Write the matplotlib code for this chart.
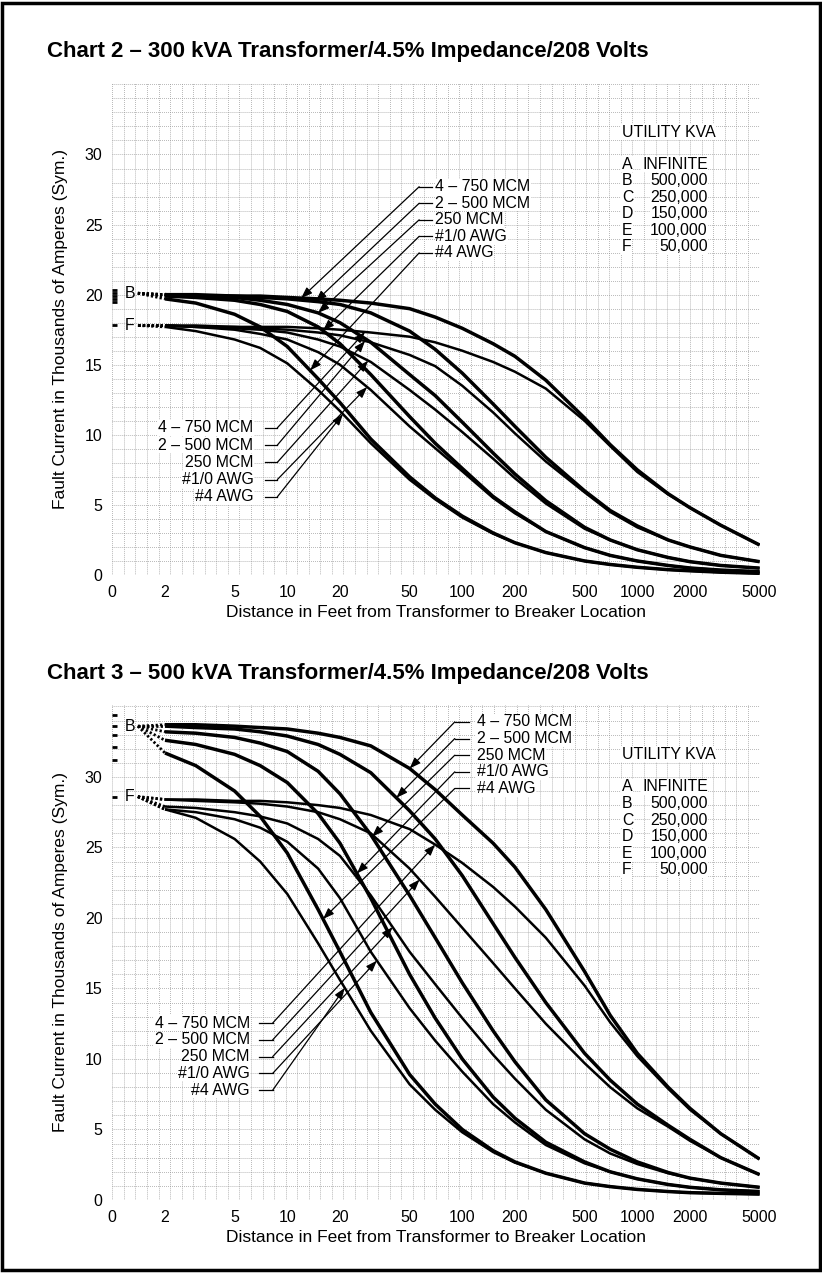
import matplotlib
matplotlib.use("Agg")
import matplotlib.pyplot as plt
import numpy as np
from matplotlib.patches import Rectangle

plt.rcParams["font.family"] = ["Liberation Sans", "DejaVu Sans"]

# distance from transformer (ft) at which each curve is read
feet = [2, 3, 5, 7, 10, 15, 20, 30, 50, 70, 100, 150, 200, 300, 500, 700,
        1000, 1500, 2000, 3000, 5000]

cables = ["4 – 750 MCM", "2 – 500 MCM", "250 MCM", "#1/0 AWG", "#4 AWG"]
utility_letters = ["A", "B", "C", "D", "E", "F"]
utility_kva = ["INFINITE", "500,000", "250,000", "150,000", "100,000", "50,000"]

x_ticks = [1, 2, 5, 10, 20, 50, 100, 200, 500, 1000, 2000, 5000]
x_tick_labels = ["0", "2", "5", "10", "20", "50", "100", "200", "500",
                 "1000", "2000", "5000"]
y_ticks = [0, 5, 10, 15, 20, 25, 30]

# ---- Chart 2: 300 kVA ----
c2_source = [20.3, 20.1, 19.9, 19.7, 19.5, 17.8]   # A..F at zero feet
c2_b_750 = [20.0, 20.0, 19.9, 19.9, 19.8, 19.7, 19.6, 19.4, 19.0, 18.4, 17.6, 16.5, 15.6, 13.9, 11.2, 9.3, 7.5, 5.8, 4.8, 3.55, 2.14]
c2_b_500 = [20.0, 19.9, 19.9, 19.8, 19.7, 19.5, 19.3, 18.7, 17.4, 16.1, 14.4, 12.2, 10.6, 8.4, 6.0, 4.6, 3.5, 2.5, 2.0, 1.4, 0.95]
c2_b_250 = [20.0, 19.9, 19.8, 19.6, 19.3, 18.7, 18.0, 16.6, 14.3, 12.8, 10.9, 8.7, 7.2, 5.3, 3.4, 2.5, 1.8, 1.25, 0.95, 0.68, 0.49]
c2_b_10 = [19.9, 19.8, 19.6, 19.3, 18.8, 17.7, 16.5, 14.3, 11.3, 9.4, 7.6, 5.6, 4.5, 3.1, 1.95, 1.4, 1.0, 0.68, 0.5, 0.35, 0.24]
c2_b_4 = [19.7, 19.4, 18.6, 17.7, 16.3, 14.0, 12.3, 9.7, 7.0, 5.5, 4.2, 3.0, 2.3, 1.6, 1.0, 0.75, 0.55, 0.38, 0.3, 0.2, 0.12]
c2_f_750 = [17.8, 17.8, 17.7, 17.7, 17.7, 17.6, 17.5, 17.3, 17.0, 16.6, 16.0, 15.2, 14.5, 13.3, 11.0, 9.2, 7.35, 5.75, 4.8, 3.55, 2.14]
c2_f_500 = [17.8, 17.7, 17.7, 17.6, 17.5, 17.3, 17.1, 16.6, 15.7, 14.9, 13.5, 11.6, 10.1, 8.1, 5.9, 4.5, 3.4, 2.5, 2.0, 1.4, 0.95]
c2_f_250 = [17.8, 17.7, 17.6, 17.5, 17.3, 16.8, 16.3, 15.2, 13.2, 11.8, 10.2, 8.3, 6.9, 5.1, 3.3, 2.5, 1.8, 1.25, 0.95, 0.68, 0.49]
c2_f_10 = [17.8, 17.7, 17.5, 17.2, 16.8, 15.9, 15.0, 13.2, 10.6, 9.05, 7.4, 5.5, 4.4, 3.1, 1.95, 1.4, 1.0, 0.68, 0.5, 0.35, 0.24]
c2_f_4 = [17.7, 17.4, 16.8, 16.2, 15.1, 13.2, 11.7, 9.4, 6.8, 5.4, 4.1, 2.95, 2.3, 1.6, 1.0, 0.75, 0.55, 0.38, 0.3, 0.2, 0.12]
c2_top_arrow_ft = [12, 14.5, 15, 16, 13.5]
c2_bottom_arrow_ft = [27.8, 27.8, 29, 28.6, 20.8]

# ---- Chart 3: 500 kVA ----
c3_source = [34.4, 33.6, 33.0, 32.1, 31.2, 28.6]
c3_b_750 = [33.7, 33.7, 33.6, 33.5, 33.4, 33.1, 32.8, 32.2, 30.6, 29.1, 27.3, 25.3, 23.6, 20.6, 16.2, 13.1, 10.4, 8.0, 6.5, 4.7, 2.9]
c3_b_500 = [33.6, 33.5, 33.4, 33.2, 32.9, 32.3, 31.6, 30.3, 27.6, 25.6, 23.0, 19.6, 17.2, 14.0, 10.4, 8.5, 6.8, 5.3, 4.3, 3.0, 1.8]
c3_b_250 = [33.2, 33.1, 32.8, 32.4, 31.8, 30.4, 28.8, 25.9, 21.6, 18.6, 15.4, 12.0, 9.8, 7.1, 4.7, 3.6, 2.7, 1.95, 1.55, 1.2, 0.9]
c3_b_10 = [32.6, 32.3, 31.6, 30.8, 29.6, 27.4, 25.3, 21.4, 16.0, 12.9, 10.0, 7.3, 5.8, 4.1, 2.7, 2.0, 1.5, 1.1, 0.9, 0.72, 0.6]
c3_b_4 = [31.7, 30.8, 29.0, 27.2, 24.6, 20.6, 17.6, 13.3, 8.9, 6.8, 5.0, 3.5, 2.7, 1.9, 1.2, 0.95, 0.75, 0.6, 0.52, 0.47, 0.42]
c3_f_750 = [28.4, 28.4, 28.3, 28.3, 28.2, 28.0, 27.8, 27.3, 26.3, 25.2, 23.9, 22.2, 20.8, 18.6, 15.2, 12.6, 10.2, 7.9, 6.4, 4.7, 2.9]
c3_f_500 = [28.4, 28.3, 28.2, 28.1, 27.9, 27.5, 27.0, 26.0, 23.5, 21.5, 19.3, 16.8, 15.0, 12.5, 9.7, 8.0, 6.5, 5.2, 4.2, 3.0, 1.8]
c3_f_250 = [27.9, 27.8, 27.5, 27.2, 26.7, 25.6, 24.4, 21.6, 17.6, 15.3, 12.9, 10.3, 8.6, 6.4, 4.3, 3.3, 2.55, 1.9, 1.55, 1.2, 0.9]
c3_f_10 = [27.7, 27.5, 27.0, 26.4, 25.4, 23.5, 21.4, 17.6, 13.6, 11.3, 9.1, 6.8, 5.5, 3.9, 2.6, 2.0, 1.5, 1.1, 0.9, 0.72, 0.6]
c3_f_4 = [27.7, 27.1, 25.6, 24.0, 21.7, 18.2, 15.6, 12.0, 8.2, 6.4, 4.8, 3.4, 2.65, 1.9, 1.2, 0.95, 0.75, 0.6, 0.52, 0.47, 0.42]
c3_top_arrow_ft = [50, 42, 30.5, 25, 16]
c3_bottom_arrow_ft = [70, 57, 40, 32.5, 21.3]

fig = plt.figure(figsize=(8.22, 12.73), dpi=100)
fig.patches.append(Rectangle((0.003, 0.002), 0.994, 0.996, transform=fig.transFigure,
                             fill=False, edgecolor="black", linewidth=2.5))

GRID = dict(color="#8f8f8f", lw=0.55, ls=(0, (1, 1.6)), zorder=0)
ARROW = dict(arrowstyle="-|>,head_length=0.6,head_width=0.22", color="black",
             lw=0.9, mutation_scale=11, shrinkA=0, shrinkB=0)
TXT = 11.4


def curve_at(curve, ft):
    return float(np.interp(np.log10(ft), np.log10(feet), curve))


def px_factor(px):
    # horizontal offset in pixels -> multiplicative step on the log axis
    return 10 ** (px / 175.0)


def draw_chart(ax, source, b_curves, f_curves, top_ft, bottom_ft,
               top_label, bottom_label, top_gap, bottom_gap):
    ax.set_xscale("log")
    ax.set_xlim(1, 5000)
    ax.set_ylim(0, 35.1)
    for s in ax.spines.values():
        s.set_visible(False)
    ax.tick_params(length=0, labelsize=11.5, pad=7)
    ax.set_xticks(x_ticks)
    ax.set_xticklabels(x_tick_labels)
    ax.set_xticks([], minor=True)
    ax.set_yticks(y_ticks)

    # graph-paper background: one row per thousand amperes, even columns
    for v in range(0, 36):
        ax.axhline(v, **GRID)
    for f in np.linspace(0, 1, 57):
        ax.plot([f, f], [0, 1], transform=ax.transAxes, **GRID)

    for c in b_curves:
        ax.plot(feet, c, color="black", lw=2.5, zorder=3,
                solid_capstyle="butt")
    for c in f_curves:
        ax.plot(feet, c, color="black", lw=1.8, zorder=3,
                solid_capstyle="butt")

    # utility levels at zero feet and dotted lead-ins to the 2 ft start
    for v in source:
        ax.plot([1.0, 1.07], [v, v], color="black", lw=2.0,
                solid_capstyle="butt", zorder=3)
    ax.text(1.26, source[1], "B", ha="center", va="center", fontsize=TXT)
    ax.text(1.26, source[5], "F", ha="center", va="center", fontsize=TXT)
    for c in b_curves:
        ax.plot([1.4, 2], [source[1], c[0]], color="black", lw=2.0,
                ls=(0, (0.8, 0.8)), zorder=3)
    for c in f_curves:
        ax.plot([1.4, 2], [source[5], c[0]], color="black", lw=2.0,
                ls=(0, (0.8, 0.8)), zorder=3)

    # utility legend
    box = dict(facecolor="white", edgecolor="none", pad=0.4)
    ax.text(818, 31.6, "UTILITY KVA", fontsize=TXT, va="center", bbox=box)
    for i, (k, v) in enumerate(zip(utility_letters, utility_kva)):
        y = 29.3 - i * 1.18
        ax.text(818, y, k, fontsize=TXT, va="center", bbox=box)
        ax.text(2530, y, v, fontsize=TXT, va="center", ha="right", bbox=box)

    # cable callouts pointing at the B curves
    lx, ly, dy = top_label
    k_knee, k_end = top_gap
    for i, (name, c, ft) in enumerate(zip(cables, b_curves, top_ft)):
        y = ly - i * dy
        ax.text(lx, y, name, fontsize=TXT, va="center", ha="left", bbox=box,
                zorder=5)
        knee = lx / px_factor(k_knee)
        ax.plot([knee, lx / px_factor(k_end)], [y, y], color="black", lw=0.9,
                zorder=4)
        ax.annotate("", xy=(ft, curve_at(c, ft)), xytext=(knee, y),
                    arrowprops=ARROW, zorder=4)

    # cable callouts pointing at the F curves
    lx, ly, dy = bottom_label
    k_start, k_knee = bottom_gap
    for i, (name, c, ft) in enumerate(zip(cables, f_curves, bottom_ft)):
        y = ly - i * dy
        ax.text(lx, y, name, fontsize=TXT, va="center", ha="right", bbox=box,
                zorder=5)
        knee = lx * px_factor(k_knee)
        ax.plot([lx * px_factor(k_start), knee], [y, y], color="black", lw=0.9,
                zorder=4)
        ax.annotate("", xy=(ft, curve_at(c, ft)), xytext=(knee, y),
                    arrowprops=ARROW, zorder=4)

    ax.set_xlabel("Distance in Feet from Transformer to Breaker Location",
                  fontsize=12.5, labelpad=4)
    ax.set_ylabel("Fault Current in Thousands of Amperes (Sym.)",
                  fontsize=12.5, labelpad=12)


ax2 = fig.add_axes([112.3 / 822, 1 - 575 / 1273, 647.3 / 822, 492 / 1273])
draw_chart(ax2, c2_source,
           [c2_b_750, c2_b_500, c2_b_250, c2_b_10, c2_b_4],
           [c2_f_750, c2_f_500, c2_f_250, c2_f_10, c2_f_4],
           c2_top_arrow_ft, c2_bottom_arrow_ft,
           (70, 27.7, 1.18), (6.4, 10.5, 1.23), (16, 3), (12, 24))
fig.text(47 / 822, 1 - 51 / 1273,
         "Chart 2 – 300 kVA Transformer/4.5% Impedance/208 Volts",
         fontsize=16, fontweight="bold", va="center", ha="left")

ax3 = fig.add_axes([112.3 / 822, 1 - 1200 / 1273, 647.3 / 822, 495 / 1273])
draw_chart(ax3, c3_source,
           [c3_b_750, c3_b_500, c3_b_250, c3_b_10, c3_b_4],
           [c3_f_750, c3_f_500, c3_f_250, c3_f_10, c3_f_4],
           c3_top_arrow_ft, c3_bottom_arrow_ft,
           (121, 33.9, 1.18), (6.1, 12.55, 1.19), (22, 8), (9, 23))
fig.text(47 / 822, 1 - 673 / 1273,
         "Chart 3 – 500 kVA Transformer/4.5% Impedance/208 Volts",
         fontsize=16, fontweight="bold", va="center", ha="left")

fig.savefig("out.png", dpi=100)
